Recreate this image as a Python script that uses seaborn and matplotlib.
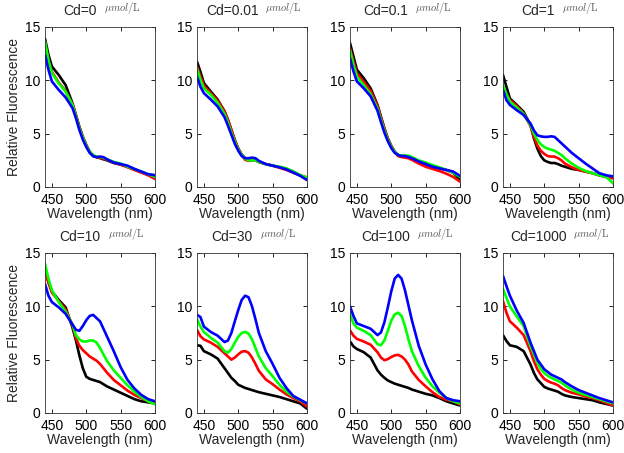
import matplotlib
matplotlib.use("Agg")
import matplotlib.pyplot as plt
import seaborn as sns
import pandas as pd

wl = [440, 445, 450, 460, 470, 480, 485, 490, 495, 500, 505, 510, 515, 520,
      525, 530, 540, 550, 560, 570, 580, 590, 600]

cd_labels = ["0", "0.01", "0.1", "1", "10", "30", "100", "1000"]
series = ["black", "red", "green", "blue"]

cd0 = {
    "black": [13.9, 12.4, 11.3, 10.5, 9.55, 7.85, 6.75, 5.65, 4.7, 3.95, 3.3, 2.9, 2.8, 2.7, 2.6, 2.5, 2.25, 2.1, 1.9, 1.65, 1.4, 1.15, 1.1],
    "red":   [13.5, 11.8, 10.8, 9.8, 9.0, 7.75, 6.7, 5.6, 4.7, 3.9, 3.3, 2.95, 2.8, 2.75, 2.65, 2.55, 2.3, 2.1, 1.85, 1.6, 1.35, 1.1, 0.75],
    "green": [13.65, 11.9, 10.7, 9.7, 8.95, 7.7, 6.6, 5.5, 4.65, 3.85, 3.3, 3.0, 2.85, 2.8, 2.75, 2.6, 2.35, 2.2, 1.9, 1.7, 1.45, 1.2, 0.95],
    "blue":  [12.4, 11.0, 9.9, 9.1, 8.4, 7.4, 6.45, 5.35, 4.45, 3.75, 3.2, 2.9, 2.8, 2.85, 2.8, 2.6, 2.3, 2.15, 2.0, 1.7, 1.45, 1.2, 1.1],
}
cd001 = {
    "black": [11.75, 10.8, 9.75, 8.95, 8.2, 7.1, 6.3, 5.35, 4.4, 3.6, 3.05, 2.7, 2.55, 2.55, 2.5, 2.35, 2.15, 2.0, 1.85, 1.7, 1.45, 1.1, 0.8],
    "red":   [11.3, 10.35, 9.5, 8.8, 8.1, 7.1, 6.3, 5.35, 4.4, 3.6, 3.0, 2.55, 2.45, 2.5, 2.5, 2.35, 2.15, 2.0, 1.8, 1.6, 1.35, 1.1, 0.9],
    "green": [11.1, 10.05, 9.25, 8.65, 7.9, 6.85, 6.05, 5.1, 4.25, 3.5, 3.0, 2.65, 2.5, 2.5, 2.5, 2.35, 2.15, 2.0, 1.9, 1.75, 1.45, 1.1, 0.9],
    "blue":  [10.35, 9.4, 8.8, 8.2, 7.55, 6.55, 5.75, 4.9, 4.05, 3.4, 2.9, 2.7, 2.7, 2.75, 2.7, 2.45, 2.15, 2.0, 1.85, 1.65, 1.35, 1.05, 0.65],
}
cd01 = {
    "black": [13.5, 12.25, 11.0, 10.2, 9.25, 7.7, 6.6, 5.5, 4.55, 3.85, 3.3, 3.0, 2.9, 2.9, 2.8, 2.7, 2.4, 2.15, 1.9, 1.75, 1.6, 1.35, 0.7],
    "red":   [13.0, 11.75, 10.65, 9.85, 9.0, 7.6, 6.5, 5.5, 4.55, 3.85, 3.3, 2.9, 2.8, 2.75, 2.7, 2.55, 2.2, 1.9, 1.7, 1.5, 1.25, 0.95, 0.5],
    "green": [12.85, 11.45, 10.35, 9.55, 8.7, 7.35, 6.3, 5.3, 4.45, 3.75, 3.3, 3.0, 2.95, 2.95, 2.95, 2.8, 2.5, 2.3, 2.05, 1.85, 1.6, 1.35, 0.95],
    "blue":  [12.1, 10.85, 9.9, 9.25, 8.5, 7.15, 6.1, 5.1, 4.3, 3.65, 3.2, 3.0, 2.9, 2.9, 2.8, 2.7, 2.4, 2.15, 1.9, 1.75, 1.6, 1.45, 1.05],
}
cd1 = {
    "black": [10.5, 9.4, 8.3, 7.7, 7.05, 5.8, 4.55, 3.6, 2.9, 2.5, 2.35, 2.25, 2.25, 2.15, 2.0, 1.9, 1.7, 1.6, 1.45, 1.3, 1.1, 0.95, 0.9],
    "red":   [9.4, 8.7, 8.15, 7.6, 6.9, 5.7, 4.7, 3.9, 3.4, 3.1, 2.9, 2.85, 2.85, 2.7, 2.5, 2.2, 1.85, 1.6, 1.45, 1.3, 1.1, 0.95, 0.8],
    "green": [9.55, 8.7, 8.0, 7.45, 6.85, 5.8, 5.0, 4.4, 4.0, 3.75, 3.6, 3.5, 3.4, 3.2, 3.0, 2.7, 2.2, 1.8, 1.5, 1.3, 1.1, 0.95, 0.35],
    "blue":  [9.1, 8.15, 7.7, 7.2, 6.75, 5.95, 5.3, 4.85, 4.75, 4.7, 4.7, 4.75, 4.7, 4.4, 4.1, 3.8, 3.2, 2.7, 2.2, 1.75, 1.3, 1.1, 1.0],
}
cd10 = {
    "black": [13.4, 12.3, 11.4, 10.6, 9.9, 8.0, 6.8, 5.4, 4.2, 3.4, 3.2, 3.1, 3.0, 2.9, 2.7, 2.5, 2.2, 1.9, 1.6, 1.3, 1.1, 1.0, 0.9],
    "red":   [13.3, 12.2, 11.3, 10.5, 9.7, 8.2, 7.0, 6.3, 5.9, 5.6, 5.3, 5.1, 4.9, 4.6, 4.2, 3.8, 3.1, 2.6, 2.1, 1.7, 1.4, 1.1, 0.9],
    "green": [14.0, 12.6, 11.5, 10.4, 9.5, 8.3, 7.3, 6.9, 6.7, 6.7, 6.8, 6.8, 6.6, 6.1, 5.5, 4.9, 4.0, 3.3, 2.6, 2.0, 1.5, 1.1, 0.8],
    "blue":  [12.1, 11.0, 10.4, 9.9, 9.3, 8.3, 7.8, 7.7, 8.15, 8.7, 9.1, 9.2, 8.9, 8.6, 7.9, 7.2, 5.8, 4.3, 3.1, 2.3, 1.7, 1.3, 1.1],
}
cd30 = {
    "black": [6.35, 6.3, 5.8, 5.5, 5.1, 4.2, 3.75, 3.3, 3.0, 2.65, 2.5, 2.35, 2.25, 2.15, 2.05, 1.95, 1.8, 1.65, 1.5, 1.3, 1.1, 0.9, 0.4],
    "red":   [7.8, 7.2, 6.9, 6.6, 6.2, 5.6, 5.3, 5.0, 5.2, 5.5, 5.75, 5.8, 5.65, 5.2, 4.6, 3.95, 3.15, 2.7, 2.2, 1.75, 1.4, 1.1, 0.6],
    "green": [8.8, 8.1, 7.6, 7.05, 6.6, 5.8, 5.65, 6.0, 6.6, 7.15, 7.5, 7.6, 7.45, 6.9, 6.1, 5.3, 4.2, 3.45, 2.65, 2.0, 1.55, 1.2, 0.9],
    "blue":  [9.2, 9.0, 8.1, 7.6, 7.25, 6.65, 6.8, 7.5, 8.6, 9.65, 10.6, 11.0, 10.85, 10.0, 8.8, 7.5, 5.8, 4.6, 3.3, 2.35, 1.6, 1.25, 0.9],
}
cd100 = {
    "black": [6.7, 6.25, 6.0, 5.7, 5.2, 4.0, 3.6, 3.3, 3.05, 2.9, 2.75, 2.65, 2.55, 2.45, 2.35, 2.2, 2.0, 1.8, 1.65, 1.4, 1.1, 0.9, 0.7],
    "red":   [7.75, 7.25, 6.95, 6.7, 6.4, 5.7, 5.2, 4.95, 5.05, 5.25, 5.4, 5.45, 5.3, 5.0, 4.55, 3.9, 3.1, 2.5, 1.95, 1.5, 1.25, 1.1, 0.8],
    "green": [9.25, 8.4, 8.0, 7.7, 7.3, 6.45, 6.35, 6.8, 7.7, 8.65, 9.25, 9.4, 9.1, 8.15, 6.9, 5.8, 4.4, 3.3, 2.5, 1.9, 1.4, 1.1, 0.9],
    "blue":  [10.0, 9.1, 8.4, 8.15, 7.9, 7.3, 7.55, 8.5, 9.9, 11.4, 12.6, 12.95, 12.6, 11.5, 10.1, 8.7, 6.3, 4.55, 3.15, 2.05, 1.4, 1.2, 1.1],
}
cd1000 = {
    "black": [7.3, 6.75, 6.35, 6.2, 5.8, 4.55, 3.75, 3.15, 2.8, 2.45, 2.3, 2.2, 2.1, 2.0, 1.8, 1.65, 1.5, 1.4, 1.3, 1.2, 1.0, 0.85, 0.7],
    "red":   [10.5, 9.4, 8.6, 8.0, 7.3, 5.8, 4.85, 4.1, 3.6, 3.2, 3.0, 2.85, 2.75, 2.6, 2.35, 2.15, 1.9, 1.75, 1.55, 1.4, 1.2, 0.95, 0.7],
    "green": [11.65, 10.8, 10.0, 9.05, 8.15, 6.25, 5.5, 4.7, 4.15, 3.75, 3.5, 3.3, 3.15, 3.0, 2.85, 2.6, 2.2, 1.9, 1.7, 1.5, 1.3, 1.1, 0.9],
    "blue":  [12.85, 11.9, 11.0, 9.6, 8.45, 6.6, 5.8, 5.0, 4.55, 4.1, 3.85, 3.6, 3.45, 3.3, 3.15, 2.9, 2.5, 2.15, 1.9, 1.65, 1.4, 1.2, 1.0],
}
panels = [cd0, cd001, cd01, cd1, cd10, cd30, cd100, cd1000]

palette = {"black": "#000000", "red": "#ff0000", "green": "#00ff00", "blue": "#0000ff"}

sns.set_theme(style="ticks")
plt.rcParams["font.family"] = ["Liberation Sans", "DejaVu Sans"]
plt.rcParams["xtick.direction"] = "in"
plt.rcParams["ytick.direction"] = "in"
plt.rcParams["mathtext.fontset"] = "cm"

fig = plt.figure(figsize=(6.24, 4.53), dpi=100)
W, H = 624.0, 453.0
lefts = [45, 197, 350, 503]
width = 110
tops = [27, 253]
height = 160

for i, (lab, d) in enumerate(zip(cd_labels, panels)):
    r, c = divmod(i, 4)
    ax = fig.add_axes([lefts[c] / W, 1 - (tops[r] + height) / H, width / W, height / H])
    df = pd.DataFrame([(w, v, s) for s in series for w, v in zip(wl, d[s])],
                      columns=["wl", "val", "series"])
    sns.lineplot(data=df, x="wl", y="val", hue="series", hue_order=series,
                 palette=palette, linewidth=1.9, legend=False, ax=ax)
    ax.set_xlim(440, 600)
    ax.set_ylim(0, 15)
    ax.set_xticks([450, 500, 550, 600])
    ax.set_yticks([0, 5, 10, 15])
    ax.tick_params(axis="both", labelsize=10, length=3, width=0.6, top=True,
                   right=True, colors="black")
    ax.tick_params(axis="x", pad=4)
    ax.tick_params(axis="y", pad=3.5)
    for sp in ax.spines.values():
        sp.set_linewidth(0.6)
        sp.set_color("#333333")
    ax.set_xlabel("Wavelength (nm)", fontsize=10, labelpad=0)
    if c == 0:
        ax.set_ylabel("Relative Fluorescence", fontsize=10, labelpad=3)
    else:
        ax.set_ylabel("")
    t = ax.text(0.32, 1.075, "Cd=" + lab, transform=ax.transAxes, ha="center",
                va="baseline", fontsize=10)
    ax.annotate(r"$\mu mol/\mathrm{L}$", xy=(1, 0), xycoords=t,
                xytext=(5, 1.5), textcoords="offset points", ha="left", va="bottom",
                fontsize=7.5, color="#555555")

fig.savefig("out.png", dpi=100)
